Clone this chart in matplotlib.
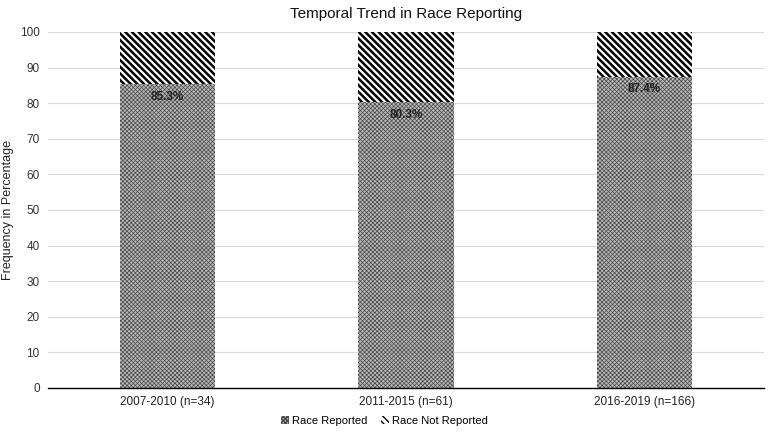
import matplotlib
matplotlib.use("Agg")
import matplotlib.pyplot as plt
import numpy as np

plt.rcParams['font.family'] = ['Liberation Sans', 'DejaVu Sans']

categories = ["2007-2010 (n=34)", "2011-2015 (n=61)", "2016-2019 (n=166)"]
reported = [85.3, 80.3, 87.4]
not_reported = [100 - v for v in reported]
labels = ["85.3%", "80.3%", "87.4%"]

fig = plt.figure(figsize=(7.69, 4.32), dpi=100)
ax = fig.add_axes([0.0624, 0.1019, 0.931, 0.8241])

x = np.arange(len(categories))
w = 0.4
b1 = ax.bar(x, reported, w, color='#b8b8b8', edgecolor='#4a4a4a', hatch='xxxxxxxx',
            linewidth=0, label='Race Reported', zorder=2)
b2 = ax.bar(x, not_reported, w, bottom=reported, color='white', edgecolor='black',
            hatch='\\' * 5, linewidth=0, label='Race Not Reported', zorder=2)
for p in b1:
    p.set_hatch_linewidth(0.5)
for p in b2:
    p.set_hatch_linewidth(1.8)

for xi, v, t in zip(x, reported, labels):
    ax.annotate(t, (xi, v), xytext=(0, -9), textcoords='offset points',
                ha='center', va='center', fontsize=8.5, fontweight='bold', color='#222222', zorder=3)

ax.set_xlim(-0.5, 2.5)
ax.set_ylim(0, 100)
ax.set_yticks(range(0, 101, 10))
ax.set_xticks(x)
ax.set_xticklabels(categories, fontsize=8.5, color='#222222')
ax.tick_params(axis='y', length=0, labelsize=8.5, labelcolor='#333333', pad=6)
ax.tick_params(axis='x', length=0, pad=6)
ax.grid(axis='y', color='#d9d9d9', linewidth=0.8, zorder=0)
ax.set_axisbelow(True)
for s in ['top', 'right', 'left']:
    ax.spines[s].set_visible(False)
ax.spines['bottom'].set_color('black')
ax.spines['bottom'].set_linewidth(1.0)

ax.set_ylabel("Frequency in Percentage", fontsize=9, color='#222222')
ax.yaxis.set_label_coords(-0.047, 0.5)
ax.set_title("Temporal Trend in Race Reporting", fontsize=11, color='#111111', pad=10)

leg = fig.legend(handles=[b1, b2], loc='center', bbox_to_anchor=(0.5, 0.025), ncol=2,
                 frameon=False, fontsize=8, handlelength=0.7, handleheight=0.7,
                 handletextpad=0.3, columnspacing=1.2)

fig.savefig("out.png", dpi=100)
